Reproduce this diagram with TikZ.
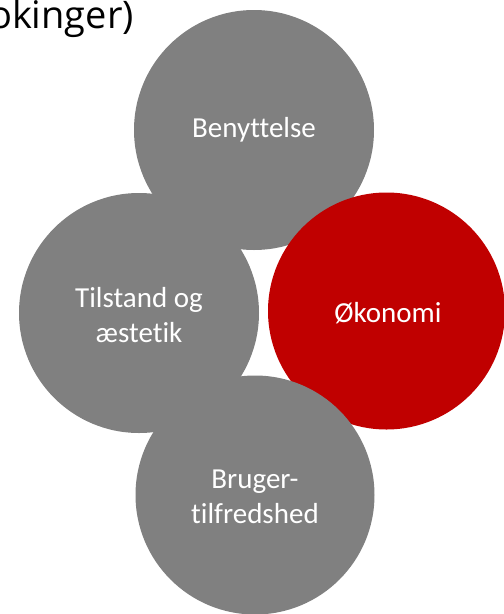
\documentclass[tikz,border=0pt]{standalone}
\usepackage{fontspec}
\setmainfont[Ligatures={NoCommon}]{Carlito}
\newfontfamily\titlefont{Open Sans}
\definecolor{circgray}{HTML}{808080}
\definecolor{circred}{HTML}{C00000}
\begin{document}
\begin{tikzpicture}[x=1pt,y=-1pt,
  circ/.style={circle,minimum size=240pt,inner sep=0pt,draw=none},
  lbl/.style={text=white,align=center,inner sep=0pt,font=\fontsize{29}{35}\selectfont}]
\useasboundingbox (0,0) rectangle (504,614);
\clip (0,0) rectangle (504,614);
\node[anchor=base east,inner sep=0pt,font=\titlefont\fontsize{38}{44}\selectfont] (title) at (134,28) {okinger)};
\node[circ,fill=circgray] (ben) at (254,130) {};
\node[circ,fill=circgray] (til) at (139,313) {};
\node[circ,fill=circred,minimum size=237pt] (oko) at (386.5,311) {};
\node[circ,fill=circgray,minimum size=239pt] (bru) at (255,495) {};
\node[lbl] (bentxt) at (ben.center) {Benyttelse};
\node[lbl] (tiltxt) at (139,315) {Tilstand og\\æstetik};
\node[lbl] (okotxt) at (388,313) {Økonomi};
\node[lbl] (brutxt) at (255,497) {Bruger-\\tilfredshed};
\end{tikzpicture}
\end{document}
